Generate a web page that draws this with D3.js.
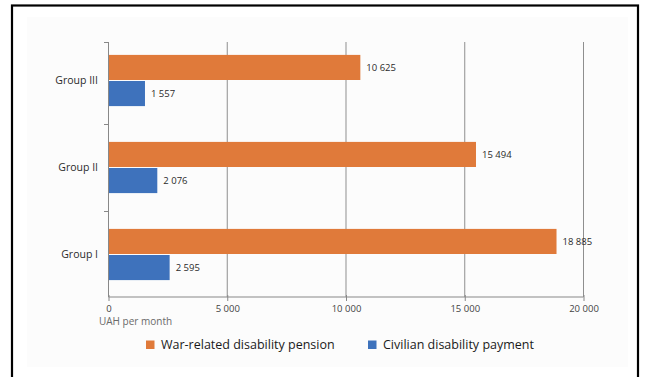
<!DOCTYPE html>
<html><head><meta charset="utf-8">
<script src="https://cdn.jsdelivr.net/npm/d3@7"></script>
<style>
body{margin:0;background:#fff;}
svg{display:block;font-family:"Open Sans","Noto Sans",sans-serif;}
</style></head>
<body><svg id="c" width="645" height="377"></svg>
<script>
const categories = ["Group III", "Group II", "Group I"];
const seriesNames = ["War-related disability pension", "Civilian disability payment"];
const warPension = [10625, 15494, 18885];
const civilianPayment = [1557, 2076, 2595];
const tickValues = [0, 5000, 10000, 15000, 20000];
const axisTitle = "UAH per month";
const colors = ["#E07A3A", "#3E72BC"];

const svg = d3.select("#c");
// outer frame & panel
svg.append("rect").attr("x",12).attr("y",5.5).attr("width",626).attr("height",400)
  .attr("fill","#fff").attr("stroke","#000").attr("stroke-width",2.2);
svg.append("rect").attr("x",27).attr("y",17).attr("width",601).attr("height",350).attr("fill","#fcfcfc");

const fmtT = v => d3.format(",")(v).replace(/,/g, " ");

const x = d3.scaleLinear().domain([0, 20000]).range([108, 583]);
const y = d3.scaleBand().domain(categories).range([37, 298]).paddingInner(0.4).paddingOuter(0.2);
const ySub = d3.scaleBand().domain([0,1]).range([0, y.bandwidth()]);
const plotTop = 42, plotBottom = 297;

// gridlines
svg.append("g").selectAll("line").data(tickValues.slice(1)).join("line")
  .attr("x1", d => x(d)+0.5).attr("x2", d => x(d)+0.5)
  .attr("y1", plotTop).attr("y2", plotBottom).attr("stroke","#8f8f8f").attr("stroke-width",1);

// bars
const data = [];
categories.forEach((c,i) => {
  data.push({c, s:0, v: warPension[i]});
  data.push({c, s:1, v: civilianPayment[i]});
});
svg.append("g").selectAll("rect").data(data).join("rect")
  .attr("x", x(0)).attr("y", d => y(d.c) + ySub(d.s) + 0.5)
  .attr("width", d => x(d.v) - x(0)).attr("height", ySub.bandwidth() - 1)
  .attr("fill", d => colors[d.s]);
svg.append("g").selectAll("text").data(data).join("text")
  .attr("x", d => x(d.v) + 6).attr("y", d => y(d.c) + ySub(d.s) + ySub.bandwidth()/2)
  .attr("dy","0.35em").attr("font-size",9.5).attr("fill","#2a2a2a")
  .text(d => fmtT(d.v));

// x axis
const xAxis = d3.axisBottom(x).tickValues(tickValues).tickSize(4).tickFormat(fmtT);
const gx = svg.append("g").attr("transform",`translate(0.5,${plotBottom})`).call(xAxis);
gx.select(".domain").attr("stroke","#888").attr("d",`M${x(0)},0H${x(20000)}`);
gx.selectAll(".tick line").attr("stroke","#888").attr("y1",-2);
gx.selectAll(".tick text").attr("font-size",9.5).attr("fill","#444").attr("y",8).attr("font-family","Open Sans");
svg.append("text").attr("x",99).attr("y",321).attr("dy","0.35em").attr("font-size",10)
  .attr("fill","#6a6a6a").text(axisTitle);

// y axis
svg.append("line").attr("x1",x(0)+0.5).attr("x2",x(0)+0.5).attr("y1",plotTop).attr("y2",plotBottom)
  .attr("stroke","#888");
const catTicks = [plotTop, y.step()+37, 2*y.step()+37];
svg.append("g").selectAll("line").data(catTicks).join("line")
  .attr("x1",x(0)-4).attr("x2",x(0)).attr("y1",d=>Math.round(d)+0.5).attr("y2",d=>Math.round(d)+0.5)
  .attr("stroke","#888");
svg.append("g").selectAll("text").data(categories).join("text")
  .attr("x",98).attr("y", d => y(d) + y.bandwidth()/2).attr("dy","0.35em")
  .attr("text-anchor","end").attr("font-size",10.5).attr("fill","#2a2a2a").text(d => d);

// legend
const lg = svg.append("g");
const legX = [146, 368];
seriesNames.forEach((n,i) => {
  lg.append("rect").attr("x",legX[i]).attr("y",340.5).attr("width",8.5).attr("height",8.5).attr("fill",colors[i]);
  lg.append("text").attr("x",legX[i]+15).attr("y",345).attr("dy","0.35em").attr("font-size",12.5)
    .attr("fill","#1a1a1a").text(n);
});
</script></body></html>
